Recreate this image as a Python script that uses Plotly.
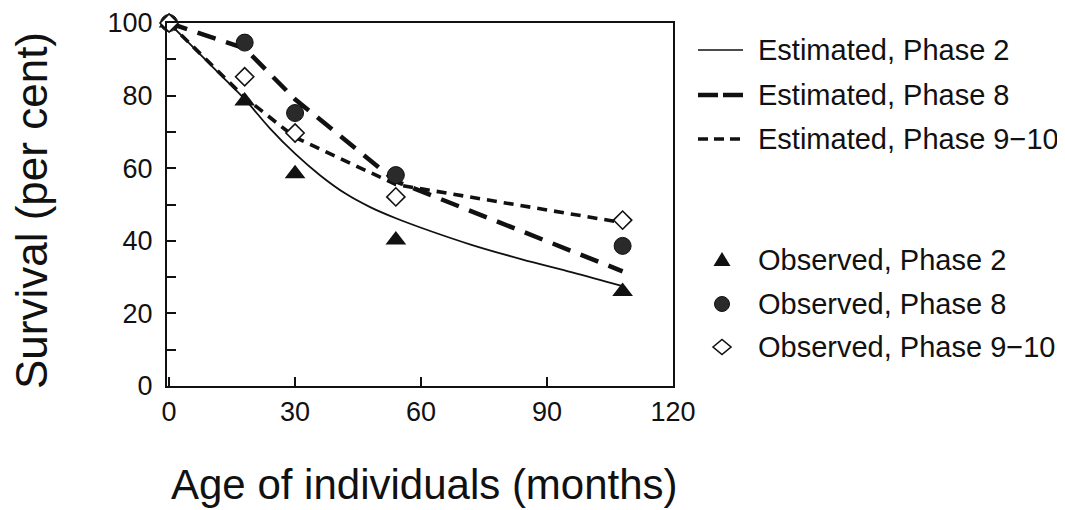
import plotly.graph_objects as go

# ---------------- data ----------------
age_obs = [0, 18, 30, 54, 108]
obs_phase2 = [100, 78.5, 58.5, 40.2, 26.0]
obs_phase8 = [100, 94.6, 75.2, 58.1, 38.6]
obs_phase910 = [100, 85.2, 69.7, 52.1, 45.7]

age_est_p2 = [0, 6, 12, 18, 24, 30, 36, 42, 48, 54, 60, 72, 84, 96, 108]
est_phase2 = [100, 93, 86, 79, 71.0, 64, 58.0, 53.0, 49.2, 46.2, 43.6, 38.9, 34.9, 31.3, 27.5]
age_est = [0, 18, 30, 54, 108]
est_phase8 = [100, 93, 79, 56.4, 31.6]
est_phase910 = [100, 79.5, 68.5, 55.5, 45.0]

x_ticks = [0, 30, 60, 90, 120]
y_ticks = [0, 20, 40, 60, 80, 100]

legend_est = ["Estimated, Phase 2", "Estimated, Phase 8", "Estimated, Phase 9\u221210"]
legend_obs = ["Observed, Phase 2", "Observed, Phase 8", "Observed, Phase 9\u221210"]

FONT = "Liberation Sans"
INK = "#111111"

fig = go.Figure()

# estimated curves
fig.add_trace(go.Scatter(x=age_est_p2, y=est_phase2, mode="lines",
                         line=dict(color=INK, width=1.8, shape="spline", smoothing=1.0),
                         showlegend=False, cliponaxis=False))
fig.add_trace(go.Scatter(x=age_est, y=est_phase8, mode="lines",
                         line=dict(color=INK, width=4.5, dash="19px,11px"),
                         showlegend=False, cliponaxis=False))
fig.add_trace(go.Scatter(x=age_est, y=est_phase910, mode="lines",
                         line=dict(color=INK, width=3.6, dash="10px,7px"),
                         showlegend=False, cliponaxis=False))

# observed points
fig.add_trace(go.Scatter(x=age_obs, y=obs_phase8, mode="markers",
                         marker=dict(symbol="circle", size=17, color="#2a2a2a",
                                     line=dict(color=INK, width=1)),
                         showlegend=False, cliponaxis=False))
fig.add_trace(go.Scatter(x=age_obs, y=obs_phase2, mode="markers",
                         marker=dict(symbol="triangle-up", size=18, color=INK,
                                     line=dict(width=0)),
                         showlegend=False, cliponaxis=False))
fig.add_trace(go.Scatter(x=age_obs, y=obs_phase910, mode="markers",
                         marker=dict(symbol="diamond", size=14, color="white",
                                     line=dict(color=INK, width=1.6)),
                         showlegend=False, cliponaxis=False))

# ---------------- layout ----------------
# the page body adds an 8 px margin, so the figure is shrunk by that amount
OFF = 8
L, R, T, B = 167 - OFF, 392, 23 - OFF, 124
W, H = 1065 - OFF, 510 - OFF
PW, PH = W - L - R, H - T - B
X0, Y0 = 167, 23  # plot-area corner in reference pixels


def px_x(p):
    return (p - X0) / PW


def px_y(p):
    return 1 - (p - Y0) / PH


shapes = []
annotations = []

# custom legend: estimated lines
line_rows = [50, 95, 139]
dashes = ["solid", "20px,5px", "10px,6px"]
widths = [1.6, 4.5, 3.6]
for txt, yy, dsh, wd in zip(legend_est, line_rows, dashes, widths):
    shapes.append(dict(type="line", xref="paper", yref="paper",
                       x0=px_x(698), x1=px_x(743), y0=px_y(yy), y1=px_y(yy),
                       line=dict(color=INK, width=wd, dash=dsh)))
    annotations.append(dict(text=txt, xref="paper", yref="paper",
                            x=px_x(756), y=px_y(yy), xanchor="left", yanchor="middle",
                            showarrow=False, font=dict(family=FONT, size=29, color=INK)))

# custom legend: observed markers
mark_rows = [260, 304, 347]
mx = px_x(722)
shapes.append(dict(type="path", xref="paper", yref="paper",
                   xsizemode="pixel", ysizemode="pixel",
                   xanchor=mx, yanchor=px_y(mark_rows[0]),
                   path="M-8.5,-6L8.5,-6L0,8Z", fillcolor=INK, line=dict(width=0)))
shapes.append(dict(type="circle", xref="paper", yref="paper",
                   xsizemode="pixel", ysizemode="pixel",
                   xanchor=mx, yanchor=px_y(mark_rows[1]),
                   x0=-7.5, x1=7.5, y0=-7.5, y1=7.5,
                   fillcolor="#2a2a2a", line=dict(color=INK, width=1)))
shapes.append(dict(type="path", xref="paper", yref="paper",
                   xsizemode="pixel", ysizemode="pixel",
                   xanchor=mx, yanchor=px_y(mark_rows[2]),
                   path="M-9,0L0,7.5L9,0L0,-7.5Z", fillcolor="white",
                   line=dict(color=INK, width=1.6)))
for txt, yy in zip(legend_obs, mark_rows):
    annotations.append(dict(text=txt, xref="paper", yref="paper",
                            x=px_x(756), y=px_y(yy), xanchor="left", yanchor="middle",
                            showarrow=False, font=dict(family=FONT, size=29, color=INK)))

# axis titles
annotations.append(dict(text="Survival (per cent)", xref="paper", yref="paper",
                        x=px_x(31), y=px_y(211), xanchor="center", yanchor="middle",
                        textangle=-90, showarrow=False,
                        font=dict(family=FONT, size=44, color=INK)))
annotations.append(dict(text="Age of individuals (months)", xref="paper", yref="paper",
                        x=px_x(424), y=px_y(484), xanchor="center", yanchor="middle",
                        showarrow=False, font=dict(family=FONT, size=42, color=INK)))

fig.update_layout(
    width=W, height=H,
    margin=dict(l=L, r=R, t=T, b=B, autoexpand=False),
    paper_bgcolor="white", plot_bgcolor="white",
    showlegend=False,
    font=dict(family=FONT, color=INK),
    shapes=shapes, annotations=annotations,
    xaxis=dict(range=[-0.5, 120], tickvals=x_ticks, ticktext=[str(v) for v in x_ticks],
               ticks="inside", ticklen=9, tickwidth=2, tickcolor=INK,
               showline=True, linewidth=2, linecolor=INK, mirror=True,
               showgrid=False, zeroline=False, ticklabelstandoff=1,
               tickfont=dict(family=FONT, size=27, color=INK)),
    yaxis=dict(range=[0, 100], tickvals=y_ticks, ticktext=[str(v) for v in y_ticks],
               ticks="inside", ticklen=9, tickwidth=2, tickcolor=INK,
               minor=dict(dtick=10, ticks="inside", ticklen=9, tickwidth=2, tickcolor=INK,
                          showgrid=False),
               showline=True, linewidth=2, linecolor=INK, mirror=True,
               showgrid=False, zeroline=False, ticklabelstandoff=7,
               tickfont=dict(family=FONT, size=27, color=INK)),
)

fig.write_html("out.html")
